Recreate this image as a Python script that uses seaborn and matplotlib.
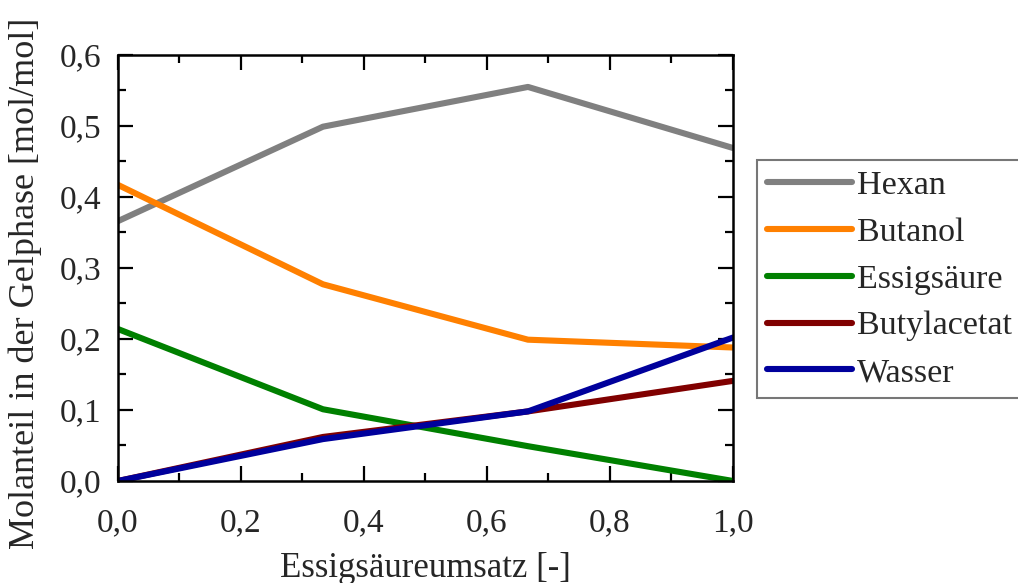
import numpy as np
import pandas as pd
import matplotlib
matplotlib.use("Agg")
import matplotlib.pyplot as plt
from matplotlib.ticker import MultipleLocator, FuncFormatter
import seaborn as sns

# Umsatz der Essigsäure (x) und Molanteile in der Gelphase
umsatz = [0.0, 1 / 3, 2 / 3, 1.0]
hexan = [0.366, 0.499, 0.555, 0.469]
butanol = [0.417, 0.277, 0.199, 0.188]
essigsaeure = [0.214, 0.101, 0.049, 0.0]
butylacetat = [0.0, 0.062, 0.098, 0.141]
wasser = [0.0, 0.059, 0.098, 0.202]

komponenten = ["Hexan", "Butanol", "Essigsäure", "Butylacetat", "Wasser"]
farben = ["#808080", "#ff8000", "#008000", "#800000", "#00009c"]

df = pd.concat(
    [
        pd.DataFrame({"Umsatz": umsatz, "Molanteil": werte, "Komponente": name})
        for name, werte in zip(komponenten, [hexan, butanol, essigsaeure, butylacetat, wasser])
    ],
    ignore_index=True,
)

sns.set_style("ticks")
plt.rcParams["font.family"] = ["Liberation Serif", "DejaVu Serif"]
plt.rcParams["mathtext.fontset"] = "dejavuserif"

fig = plt.figure(figsize=(10.18, 5.83), dpi=100)
ax = fig.add_axes([0.1159, 0.175, 0.6041, 0.7307])

sns.lineplot(
    data=df, x="Umsatz", y="Molanteil", hue="Komponente",
    hue_order=komponenten, palette=farben, linewidth=4.4,
    solid_capstyle="round", solid_joinstyle="round", ax=ax,
)

ax.set_xlim(0, 1.0)
ax.set_ylim(0, 0.6)
ax.xaxis.set_major_locator(MultipleLocator(0.2))
ax.xaxis.set_minor_locator(MultipleLocator(0.1))
ax.yaxis.set_major_locator(MultipleLocator(0.1))
ax.yaxis.set_minor_locator(MultipleLocator(0.05))
komma = FuncFormatter(lambda v, p: f"{v:.1f}".replace(".", ","))
ax.xaxis.set_major_formatter(komma)
ax.yaxis.set_major_formatter(komma)

for s in ax.spines.values():
    s.set_visible(True)
    s.set_linewidth(1.8)
    s.set_color("black")
ax.tick_params(which="both", direction="in", top=True, right=True,
               width=1.6, color="black", labelsize=24)
ax.tick_params(which="major", length=11)
ax.tick_params(which="minor", length=5.8)
ax.tick_params(axis="x", which="major", pad=19)
ax.tick_params(axis="y", which="major", pad=12)

ax.set_xlabel("Essigsäureumsatz [-]", fontsize=25, labelpad=10)
ax.set_ylabel("Molanteil in der Gelphase [mol/mol]", fontsize=26)
ax.yaxis.set_label_coords(-0.124, 0.465)

handles, labels = ax.get_legend_handles_labels()
if ax.get_legend():
    ax.get_legend().remove()
leg = fig.legend(
    handles, labels, loc="upper left", bbox_to_anchor=(0.7436, 0.7256),
    fontsize=24.5, frameon=True, fancybox=False, handlelength=2.5,
    handletextpad=0.15, labelspacing=0.47, borderpad=0.3, borderaxespad=0,
)
leg.get_frame().set_edgecolor("#555555")
leg.get_frame().set_linewidth(1.5)
for line in leg.get_lines():
    line.set_linewidth(4.4)
    line.set_solid_capstyle("round")

fig.savefig("out.png", dpi=100)
